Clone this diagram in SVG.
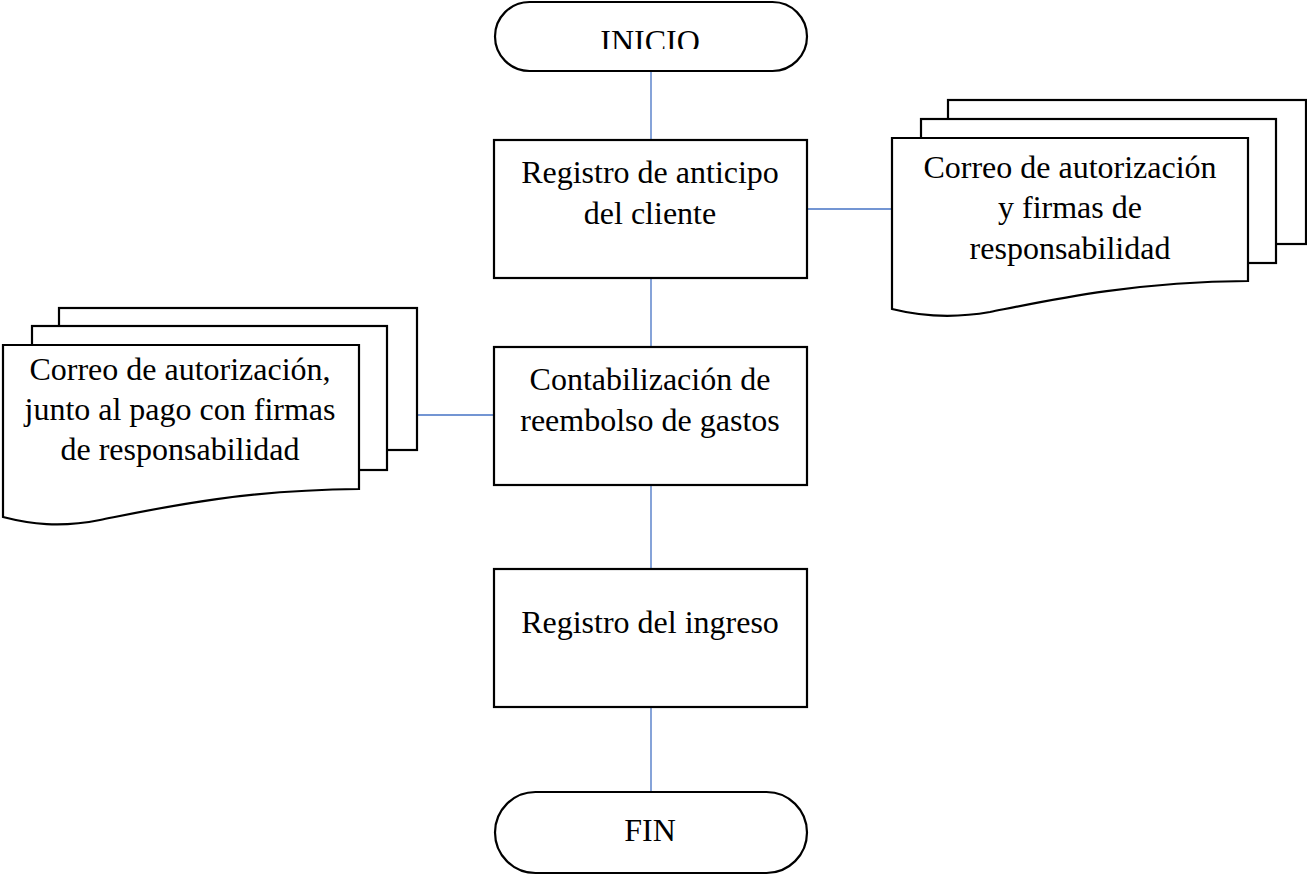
<svg xmlns="http://www.w3.org/2000/svg" width="1307" height="878" viewBox="0 0 1307 878">
<style>
.shape{fill:#fff;stroke:#000;stroke-width:2.2}
.conn{stroke:#4472C4;stroke-width:1.3;fill:none}
.t{font-family:"Liberation Serif","Times New Roman",serif;font-size:32px;fill:#000;text-anchor:middle}
</style>
<defs>
<clipPath id="clipInicio"><rect x="490" y="0" width="330" height="49"/></clipPath>
</defs>
<rect width="1307" height="878" fill="#fff"/>
<g id="connectors">
<line class="conn" x1="651" y1="71" x2="651" y2="140"/>
<line class="conn" x1="651" y1="278" x2="651" y2="347"/>
<line class="conn" x1="651" y1="485" x2="651" y2="569"/>
<line class="conn" x1="651" y1="707" x2="651" y2="792"/>
<line class="conn" x1="807" y1="209" x2="892" y2="209"/>
<line class="conn" x1="417" y1="415" x2="494" y2="415"/>
</g>
<g id="inicio">
<rect class="shape" x="495" y="2" width="312" height="69" rx="34.5" ry="34.5"/>
<text class="t" x="650" y="52" clip-path="url(#clipInicio)">INICIO</text>
</g>
<g id="registro-anticipo">
<rect class="shape" x="494" y="140" width="313" height="138"/>
<text class="t" x="650" y="183">Registro de anticipo</text>
<text class="t" x="650" y="224">del cliente</text>
</g>
<g id="doc-derecha">
<rect class="shape" x="948" y="100" width="358" height="144"/>
<rect class="shape" x="921" y="119" width="355" height="144"/>
<path class="shape" d="M892,138 H1248 V281 C1130,282 1050,300 990,312 C950,319 920,316 892,309 Z"/>
<text class="t" x="1070" y="178">Correo de autorización</text>
<text class="t" x="1070" y="218">y firmas de</text>
<text class="t" x="1070" y="259">responsabilidad</text>
</g>
<g id="contabilizacion">
<rect class="shape" x="494" y="347" width="313" height="138"/>
<text class="t" x="650" y="390">Contabilización de</text>
<text class="t" x="650" y="431">reembolso de gastos</text>
</g>
<g id="doc-izquierda">
<rect class="shape" x="59" y="308" width="358" height="142"/>
<rect class="shape" x="32" y="326" width="355" height="144"/>
<path class="shape" d="M3,345 H359 V489 C240,490 160,508 100,520 C60,528 30,524 3,517 Z"/>
<text class="t" x="180" y="380">Correo de autorización,</text>
<text class="t" x="180" y="420">junto al pago con firmas</text>
<text class="t" x="180" y="460">de responsabilidad</text>
</g>
<g id="registro-ingreso">
<rect class="shape" x="494" y="569" width="313" height="138"/>
<text class="t" x="650" y="633">Registro del ingreso</text>
</g>
<g id="fin">
<rect class="shape" x="495" y="792" width="312" height="81" rx="40.5" ry="40.5"/>
<text class="t" x="650" y="841">FIN</text>
</g>
</svg>
